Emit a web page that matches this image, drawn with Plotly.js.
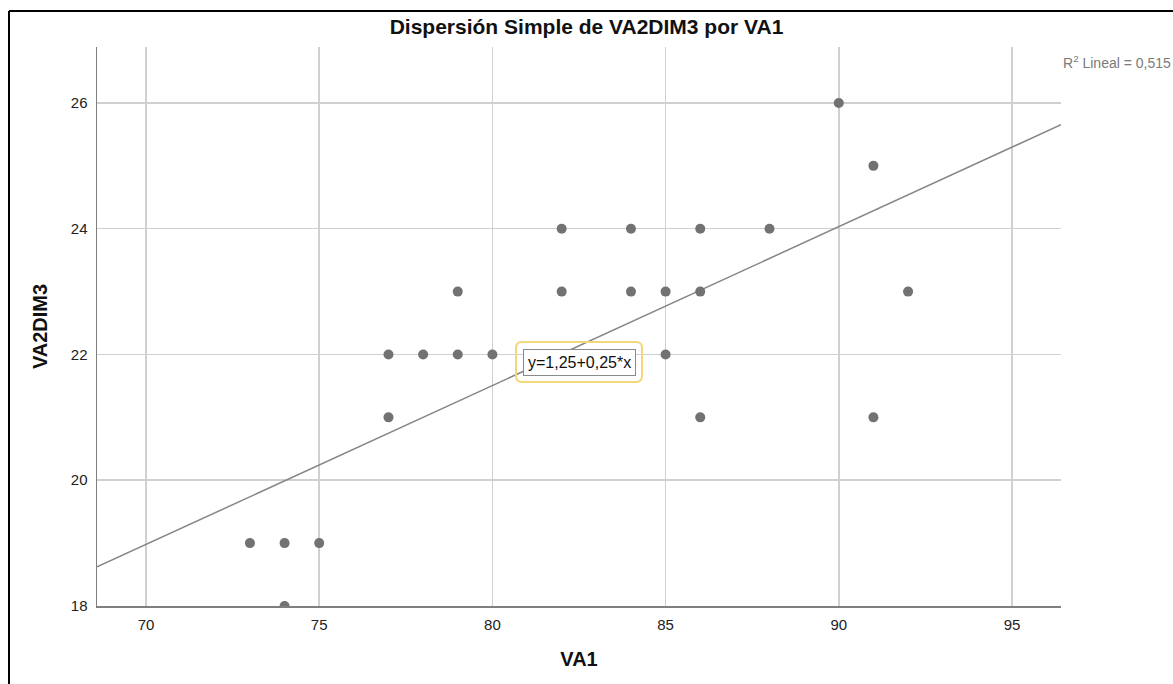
<!DOCTYPE html>
<html>
<head>
<meta charset="utf-8">
<script src="https://cdn.plot.ly/plotly-3.0.1.min.js"></script>
<style>html,body{margin:0;padding:0;background:#fff;}#chart{width:1173px;height:684px;}</style>
</head>
<body>
<div id="chart"></div>
<script>
// Data
const va1 = [90, 91, 82, 84, 86, 88, 79, 82, 84, 85, 86, 92, 77, 78, 79, 80, 85, 77, 86, 91, 73, 74, 75, 74];
const va2dim3 = [26, 25, 24, 24, 24, 24, 23, 23, 23, 23, 23, 23, 22, 22, 22, 22, 22, 21, 21, 21, 19, 19, 19, 18];
const xTicks = [70, 75, 80, 85, 90, 95];
const yTicks = [18, 20, 22, 24, 26];
const fitIntercept = 1.29;
const fitSlope = 0.2527;
const equationText = 'y=1,25+0,25*x';
const r2Text = 'R<sup>2</sup> Lineal = 0,515';
const equationPos = [82.5, 21.88];

const xRange = [68.585, 96.415];
const yRange = [18, 26.89];
const fitX = xRange.slice();
const fitY = fitX.map(v => fitIntercept + fitSlope * v);

const FONT = 'Liberation Sans, Arial, sans-serif';

const traces = [
  {
    x: fitX, y: fitY, type: 'scatter', mode: 'lines',
    line: {color: '#858585', width: 1.5},
    hoverinfo: 'skip', showlegend: false
  },
  {
    x: va1, y: va2dim3, type: 'scatter', mode: 'markers',
    marker: {color: '#727272', size: 10, line: {width: 0}},
    cliponaxis: true, showlegend: false
  }
];

const W = 964, H = 559, L = 97, T = 47;
function px2paperX(p) { return (p - L) / W; }
function px2paperY(p) { return (T + H - p) / H; }

const rr = (w, h, r) => {
  const x0 = -w / 2, x1 = w / 2, y0 = -h / 2, y1 = h / 2;
  return `M ${x0 + r},${y0} L ${x1 - r},${y0} Q ${x1},${y0} ${x1},${y0 + r} L ${x1},${y1 - r} Q ${x1},${y1} ${x1 - r},${y1} L ${x0 + r},${y1} Q ${x0},${y1} ${x0},${y1 - r} L ${x0},${y0 + r} Q ${x0},${y0} ${x0 + r},${y0} Z`;
};

const layout = {
  width: 1173, height: 684,
  margin: {l: 97, r: 112, t: 47, b: 78, pad: 0},
  paper_bgcolor: '#ffffff', plot_bgcolor: '#ffffff',
  font: {family: FONT, color: '#222222', size: 15},
  title: {
    text: 'Dispersión Simple de VA2DIM3 por VA1',
    font: {family: FONT, size: 21, weight: 'bold', color: '#111111'},
    xref: 'container', yref: 'container', x: 0.5, xanchor: 'center',
    y: 1 - 27 / 684, yanchor: 'middle'
  },
  xaxis: {
    range: xRange, tickvals: xTicks, ticktext: xTicks.map(String),
    showgrid: true, gridcolor: '#d0d0d0', gridwidth: 1.5,
    zeroline: false, showline: true, linecolor: '#7f7f7f', linewidth: 1.5,
    ticks: '', ticklabelstandoff: 4,
    tickfont: {family: FONT, size: 15, color: '#222222'},
    title: {text: 'VA1', font: {family: FONT, size: 20, weight: 'bold', color: '#111111'}, standoff: 20}
  },
  yaxis: {
    range: yRange, tickvals: yTicks, ticktext: yTicks.map(String),
    showgrid: true, gridcolor: '#d0d0d0', gridwidth: 1.5,
    zeroline: false, showline: true, linecolor: '#7f7f7f', linewidth: 1.5,
    ticks: '', ticklabelstandoff: 5,
    tickfont: {family: FONT, size: 15, color: '#222222'},
    title: {text: 'VA2DIM3', font: {family: FONT, size: 20, weight: 'bold', color: '#111111'}, standoff: 18}
  },
  annotations: [
    {
      xref: 'x', yref: 'y', x: equationPos[0], y: equationPos[1],
      text: equationText, showarrow: false,
      font: {family: FONT, size: 16, color: '#111111'},
      bgcolor: '#ffffff', bordercolor: '#8a8a8a', borderwidth: 1, borderpad: 4,
      xanchor: 'center', yanchor: 'middle'
    },
    {
      xref: 'paper', yref: 'paper', x: px2paperX(1061), y: px2paperY(62),
      text: r2Text, showarrow: false, xanchor: 'left', yanchor: 'middle',
      font: {family: FONT, size: 14, color: '#7a7a7a'}
    }
  ],
  shapes: [
    {
      type: 'path', xref: 'x', yref: 'y',
      xsizemode: 'pixel', ysizemode: 'pixel',
      xanchor: equationPos[0], yanchor: equationPos[1],
      path: rr(126, 40, 6),
      line: {color: '#f3d77a', width: 2}, fillcolor: 'rgba(0,0,0,0)'
    },
    {
      type: 'line', xref: 'paper', yref: 'paper',
      x0: px2paperX(9), x1: px2paperX(9), y0: px2paperY(11), y1: px2paperY(720),
      line: {color: '#000000', width: 2}
    },
    {
      type: 'line', xref: 'paper', yref: 'paper',
      x0: px2paperX(9), x1: px2paperX(1200), y0: px2paperY(11), y1: px2paperY(11),
      line: {color: '#000000', width: 2}
    }
  ],
  showlegend: false,
  hovermode: false
};

Plotly.newPlot('chart', traces, layout, {displayModeBar: false, staticPlot: true});
</script>
</body>
</html>
